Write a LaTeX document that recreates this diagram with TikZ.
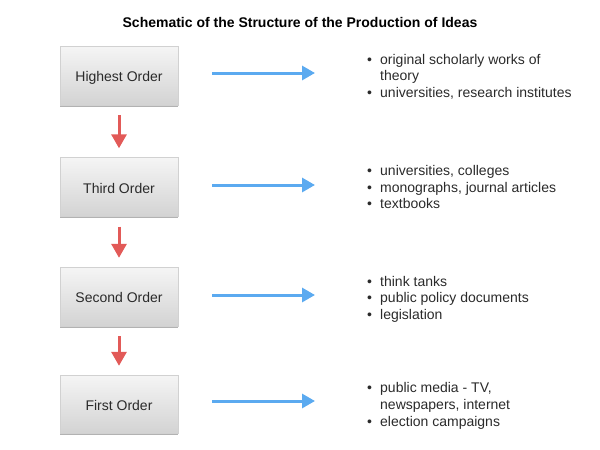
\documentclass[tikz,border=0pt]{standalone}
\usepackage{fontspec}
\setmainfont{Liberation Sans}
\usetikzlibrary{arrows.meta,shadows}
\definecolor{redarr}{HTML}{E25A58}
\definecolor{bluearr}{HTML}{5BAAF0}
\definecolor{boxtop}{HTML}{F5F5F5}
\definecolor{boxbot}{HTML}{D3D3D3}
\definecolor{txt}{HTML}{2A2A2A}
\newcommand{\bul}{\makebox[13pt][l]{•}}
\newcommand{\ind}{\hspace*{13pt}}
\begin{document}
\begin{tikzpicture}[x=1pt,y=-1pt,
  orderbox/.style={rectangle, minimum width=118pt, minimum height=59pt, inner sep=0pt,
    top color=boxtop, bottom color=boxbot, draw=black!18, line width=0.4pt,
    drop shadow={shadow xshift=0pt, shadow yshift=-1.6pt, opacity=0.3, fill=black},
    font=\fontsize{14}{17}\selectfont, text height=12pt, text depth=0pt, text=txt},
  itemline/.style={anchor=base west, inner sep=0pt, font=\fontsize{14}{17}\selectfont, text=txt},
  downarrow/.style={draw=redarr, line width=3pt, -{Triangle[width=15pt,length=14pt]}},
  rightarrow/.style={draw=bluearr, line width=3pt, -{Triangle[width=14pt,length=13pt]}}]
\useasboundingbox (0,0) rectangle (600,450);

\node[anchor=base, inner sep=0pt, font=\bfseries\fontsize{14}{17}\selectfont] (title) at (300,27)
  {Schematic of the Structure of the Production of Ideas};

\node[orderbox] (hi) at (119,75.5) {Highest Order};
\node[orderbox] (th) at (119,187) {Third Order};
\node[orderbox] (se) at (119,296.5) {Second Order};
\node[orderbox, minimum height=58pt] (fi) at (119,404) {First Order};

\draw[downarrow, shorten <=10pt, shorten >=9pt] (hi) -- (th);
\draw[downarrow, shorten <=10pt, shorten >=9pt] (th) -- (se);
\draw[downarrow, shorten <=10pt, shorten >=9pt] (se) -- (fi);

\coordinate (hitip) at (315,73);
\coordinate (thtip) at (315,185);
\coordinate (setip) at (315,295);
\coordinate (fitip) at (315,401);
\draw[rightarrow, shorten <=34pt] (hi.east |- hitip) -- (hitip);
\draw[rightarrow, shorten <=34pt] (th.east |- thtip) -- (thtip);
\draw[rightarrow, shorten <=34pt] (se.east |- setip) -- (setip);
\draw[rightarrow, shorten <=34pt] (fi.east |- fitip) -- (fitip);

\node[itemline] (h1) at (367,64) {\bul original scholarly works of};
\node[itemline] (h2) at (367,80.7) {\ind theory};
\node[itemline] (h3) at (367,97.4) {\bul universities, research institutes};

\node[itemline] (t1) at (367,175.3) {\bul universities, colleges};
\node[itemline] (t2) at (367,192) {\bul monographs, journal articles};
\node[itemline] (t3) at (367,208.7) {\bul textbooks};

\node[itemline] (s1) at (367,286) {\bul think tanks};
\node[itemline] (s2) at (367,302.7) {\bul public policy documents};
\node[itemline] (s3) at (367,319.4) {\bul legislation};

\node[itemline] (f1) at (367,392.7) {\bul public media - TV,};
\node[itemline] (f2) at (367,409.4) {\ind newspapers, internet};
\node[itemline] (f3) at (367,426.1) {\bul election campaigns};
\end{tikzpicture}
\end{document}
